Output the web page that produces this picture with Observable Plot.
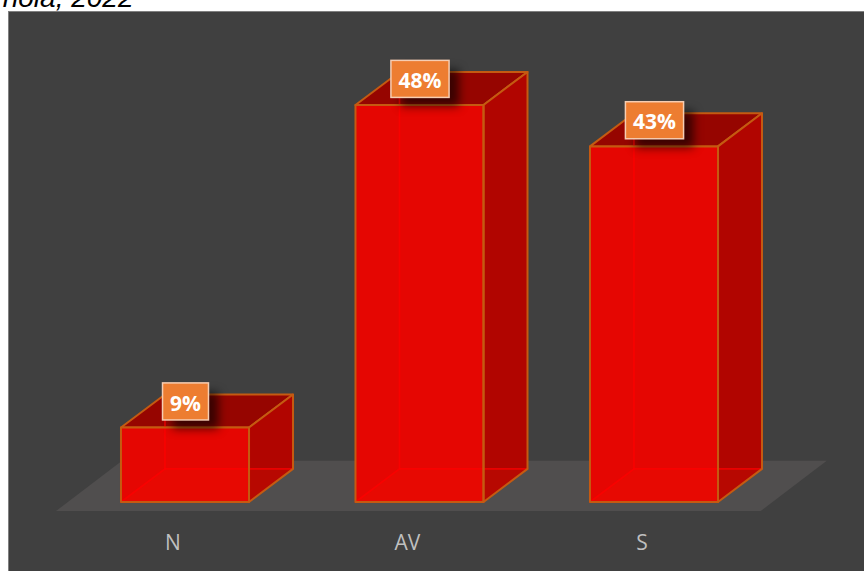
<!DOCTYPE html>
<html>
<head>
<meta charset="utf-8">
<script src="https://cdn.jsdelivr.net/npm/d3@7"></script>
<script src="https://cdn.jsdelivr.net/npm/@observablehq/plot@0.6"></script>
<style>
  html, body { margin: 0; padding: 0; background: #fff; overflow: hidden; }
  svg { display: block; }
</style>
</head>
<body>
<div id="chart"></div>
<script>
// Share per category
const categories = ["N", "AV", "S"];
const values = [9, 48, 43];
const titleText = "nola, 2022";

// Box proportions in axis units: x is the category index, y is percent
const halfWidth = 0.273;
const depthX = 0.1876;
const depthY = 4;
const ids = categories.map((_, i) => i);

// Flattens named faces into rows for a closed line mark
const face = (name, corners) => (i) =>
  corners(i).map(([x, y]) => ({x, y, key: `${name}-${i}`}));
const left = (i) => i - halfWidth;
const right = (i) => i + halfWidth;

const front = face("front", (i) => [[left(i), 0], [right(i), 0], [right(i), values[i]], [left(i), values[i]]]);
const side = face("side", (i) => [[right(i), 0], [right(i) + depthX, depthY], [right(i) + depthX, values[i] + depthY], [right(i), values[i]]]);
const top_ = face("top", (i) => [[left(i), values[i]], [right(i), values[i]], [right(i) + depthX, values[i] + depthY], [left(i) + depthX, values[i] + depthY]]);
const bottom = face("bottom", (i) => [[left(i), 0], [right(i), 0], [right(i) + depthX, depthY], [left(i) + depthX, depthY]]);
const rows = (f) => ids.flatMap(f);

// Hidden edges that show through the translucent front
const innerEdges = ids.flatMap((i) => [
  [{x: left(i), y: 0}, {x: left(i) + depthX, y: depthY}, {x: left(i) + depthX, y: values[i] + depthY}],
  [{x: left(i) + depthX, y: depthY}, {x: right(i) + depthX, y: depthY}]
].flatMap((path, p) => path.map((d) => ({...d, key: `${i}-${p}`}))));

// Ground plane under the boxes
const floor = [
  {x: -0.55, y: -1.09}, {x: 2.4552, y: -1.09},
  {x: 2.7367, y: 5}, {x: -0.2685, y: 5}
];

// Value labels sit in boxes centred over the front face
const labelRows = ids.map((i) => ({
  i,
  text: `${values[i]}%`,
  half: values[i] < 10 ? 0.098 : 0.124,
  mid: values[i] + 3.1
}));
const labelBox = {
  x1: (d) => d.i - d.half,
  x2: (d) => d.i + d.half,
  y1: (d) => d.mid - 2.24,
  y2: (d) => d.mid + 2.24
};

const edge = "#c55a11";
const closed = {x: "x", y: "y", z: "key", curve: "linear-closed"};

const chart = Plot.plot({
  width: 864,
  height: 571,
  marginLeft: 8,
  marginTop: 11,
  marginRight: 0,
  marginBottom: 0,
  x: {domain: [-0.7527, 2.8977], axis: null},
  y: {domain: [-8.404, 59.31], axis: null},
  style: {background: "#fff", overflow: "hidden"},
  marks: [
    Plot.frame({fill: "#404040", stroke: "#808080"}),
    Plot.text([titleText], {
      frameAnchor: "top-left",
      dx: 125,
      dy: -5,
      lineAnchor: "bottom",
      fontFamily: "Liberation Sans",
      fontStyle: "italic",
      fontSize: 28,
      fill: "#000",
      textAnchor: "end"
    }),
    Plot.line(floor, {x: "x", y: "y", curve: "linear-closed", fill: "#504e4e", stroke: "none"}),
    Plot.line(rows(top_), {...closed, fill: "#960500", stroke: edge, strokeWidth: 2, strokeLinejoin: "round"}),
    Plot.line(rows(side), {...closed, fill: "#b10500", stroke: "none"}),
    Plot.line(rows(front), {...closed, fill: "#e50602", stroke: "none"}),
    Plot.line(rows(bottom), {...closed, fill: "#ff3010", fillOpacity: 0.08, stroke: "none"}),
    Plot.line(innerEdges, {x: "x", y: "y", z: "key", stroke: "#ff0000", strokeOpacity: 0.75, strokeWidth: 1.6}),
    Plot.line(rows(side), {...closed, fill: "none", stroke: edge, strokeWidth: 2, strokeLinejoin: "round"}),
    Plot.line(rows(front), {...closed, fill: "none", stroke: edge, strokeWidth: 2, strokeLinejoin: "round"}),
    Plot.rect(labelRows, {...labelBox, fill: "#000", fillOpacity: 0.62, dx: 11, dy: 9, imageFilter: "blur(5px)"}),
    Plot.rect(labelRows, {...labelBox, dx: 1, fill: "#ed7d31", stroke: "#f6cdb2", strokeWidth: 1.5}),
    Plot.text(labelRows, {
      x: "i",
      y: "mid",
      text: "text",
      dx: 0.5,
      dy: 2,
      fill: "#fff",
      fontFamily: "Open Sans",
      fontWeight: 700,
      fontSize: 21
    }),
    Plot.text(ids, {
      x: (i) => i,
      text: (i) => categories[i],
      frameAnchor: "bottom",
      dx: -12,
      dy: -22,
      fill: "#bfbfbf",
      fontFamily: "Open Sans",
      fontSize: 21
    })
  ]
});

document.getElementById("chart").append(chart);
</script>
</body>
</html>
